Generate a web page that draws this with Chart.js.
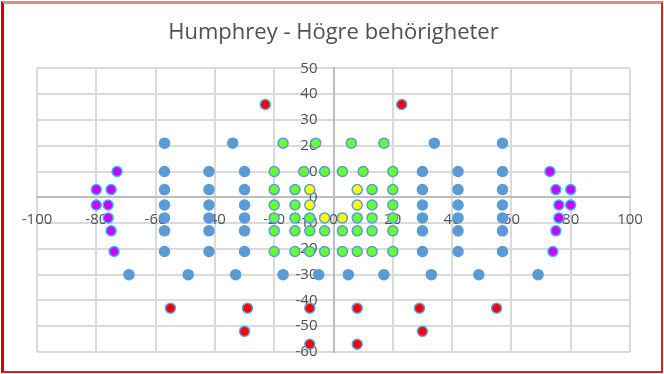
<!DOCTYPE html>
<html>
<head>
<meta charset="utf-8">
<script src="https://cdn.jsdelivr.net/npm/chart.js@4/dist/chart.umd.min.js"></script>
<style>
  html, body { margin: 0; padding: 0; background: #ffffff; }
  #wrap { position: relative; width: 664px; height: 374px; }
  #c { position: absolute; left: 0; top: 0; }
  #frame { position: absolute; left: 1px; top: 1px; width: 662px; height: 372px; box-sizing: border-box;
           border-left: 3px solid #D80000; border-top: 3px solid #E48A8A;
           border-right: 2px solid #D82020; border-bottom: 2px solid #D82020; pointer-events: none; }
</style>
</head>
<body>
<div id="wrap">
  <canvas id="c" width="664" height="374"></canvas>
  <div id="frame"></div>
</div>
<script>
// ---- data (degrees) ----
const chartTitle = "Humphrey - Högre behörigheter";
const xTicksStep = 20, xMin = -100, xMax = 100;
const yTicksStep = 10, yMin = -60, yMax = 50;

const blueX = [-57,-34,34,57, -57,-42,-30,30,42,57, -57,-42,-30,30,42,57, -57,-42,-30,30,42,57,
               -57,-42,-30,30,42,57, -57,-42,-30,30,42,57, -57,-42,-30,30,42,57,
               -69,-49,-33,-17,-5,5,17,33,49,69];
const blueY = [21,21,21,21, 10,10,10,10,10,10, 3,3,3,3,3,3, -3,-3,-3,-3,-3,-3,
               -8,-8,-8,-8,-8,-8, -13,-13,-13,-13,-13,-13, -21,-21,-21,-21,-21,-21,
               -30,-30,-30,-30,-30,-30,-30,-30,-30,-30];

const greenX = [-17,-6,6,17, -20,-10,-3,3,10,20, -20,-13,13,20, -20,-13,13,20,
                -20,-13,-8,8,13,20, -20,-13,-8,-3,3,8,13,20, -20,-13,-8,-3,3,8,13,20];
const greenY = [21,21,21,21, 10,10,10,10,10,10, 3,3,3,3, -3,-3,-3,-3,
                -8,-8,-8,-8,-8,-8, -13,-13,-13,-13,-13,-13,-13,-13, -21,-21,-21,-21,-21,-21,-21,-21];

const yellowX = [-8,8, -8,8, -3,3];
const yellowY = [3,3, -3,-3, -8,-8];

const magentaX = [-73,73, -80,-75,75,80, -80,-76,76,80, -76,76, -75,75, -74,74];
const magentaY = [10,10, 3,3,3,3, -3,-3,-3,-3, -8,-8, -13,-13, -21,-21];

const redX = [-23,23, -55,-29,-8,8,29,55, -30,30, -8,8];
const redY = [36,36, -43,-43,-43,-43,-43,-43, -52,-52, -57,-57];

function pts(xs, ys) { return xs.map((x, i) => ({ x: x, y: ys[i] })); }

const tickFont = { family: "'Open Sans', sans-serif", size: 15 };
const tickColor = '#505050';

function ds(label, xs, ys, fill, border) {
  return {
    label: label, data: pts(xs, ys),
    backgroundColor: fill, borderColor: border,
    pointRadius: 5, pointHoverRadius: 5, pointBorderWidth: 1.5,
    showLine: false
  };
}

new Chart(document.getElementById('c'), {
  type: 'scatter',
  data: {
    datasets: [
      ds('Blå', blueX, blueY, '#5B9BD5', '#5B9BD5'),
      ds('Grön', greenX, greenY, '#66FF33', '#5B9BD5'),
      ds('Gul', yellowX, yellowY, '#FFFF00', '#5B9BD5'),
      ds('Magenta', magentaX, magentaY, '#CC00FF', '#33BBEE'),
      ds('Röd', redX, redY, '#FF0000', '#4FA8E8')
    ]
  },
  options: {
    responsive: false,
    animation: false,
    events: [],
    layout: { padding: { left: 37, right: 34, bottom: 22, top: 0 } },
    plugins: {
      legend: { display: false },
      tooltip: { enabled: false },
      title: {
        display: true, text: chartTitle, color: '#505050',
        font: { family: "'Open Sans', sans-serif", size: 22, weight: 'normal', lineHeight: 1.2 },
        padding: { top: 20, bottom: 22 }
      }
    },
    scales: {
      x: {
        type: 'linear', min: xMin, max: xMax, position: { y: 0 },
        ticks: { stepSize: xTicksStep, display: false },
        grid: { color: '#DADADA', lineWidth: 2, drawTicks: false },
        border: { display: true, color: '#BDBDBD', width: 2 }
      },
      y: {
        type: 'linear', min: yMin, max: yMax, position: { x: 0 },
        ticks: { stepSize: yTicksStep, display: false },
        grid: { color: '#DADADA', lineWidth: 2, drawTicks: false },
        border: { display: true, color: '#BDBDBD', width: 2 }
      },
      xt: {
        axis: 'x', type: 'linear', min: xMin, max: xMax, position: { y: 0 }, z: 2,
        ticks: { stepSize: xTicksStep, padding: 13, font: tickFont, color: tickColor, maxRotation: 0 },
        grid: { display: false, drawTicks: false },
        border: { display: false }
      },
      yt: {
        axis: 'y', type: 'linear', min: yMin, max: yMax, position: { x: -5.4 }, z: 2,
        ticks: { stepSize: yTicksStep, padding: 0, font: tickFont, color: tickColor },
        grid: { display: false, drawTicks: false },
        border: { display: false }
      }
    }
  }
});
</script>
</body>
</html>
